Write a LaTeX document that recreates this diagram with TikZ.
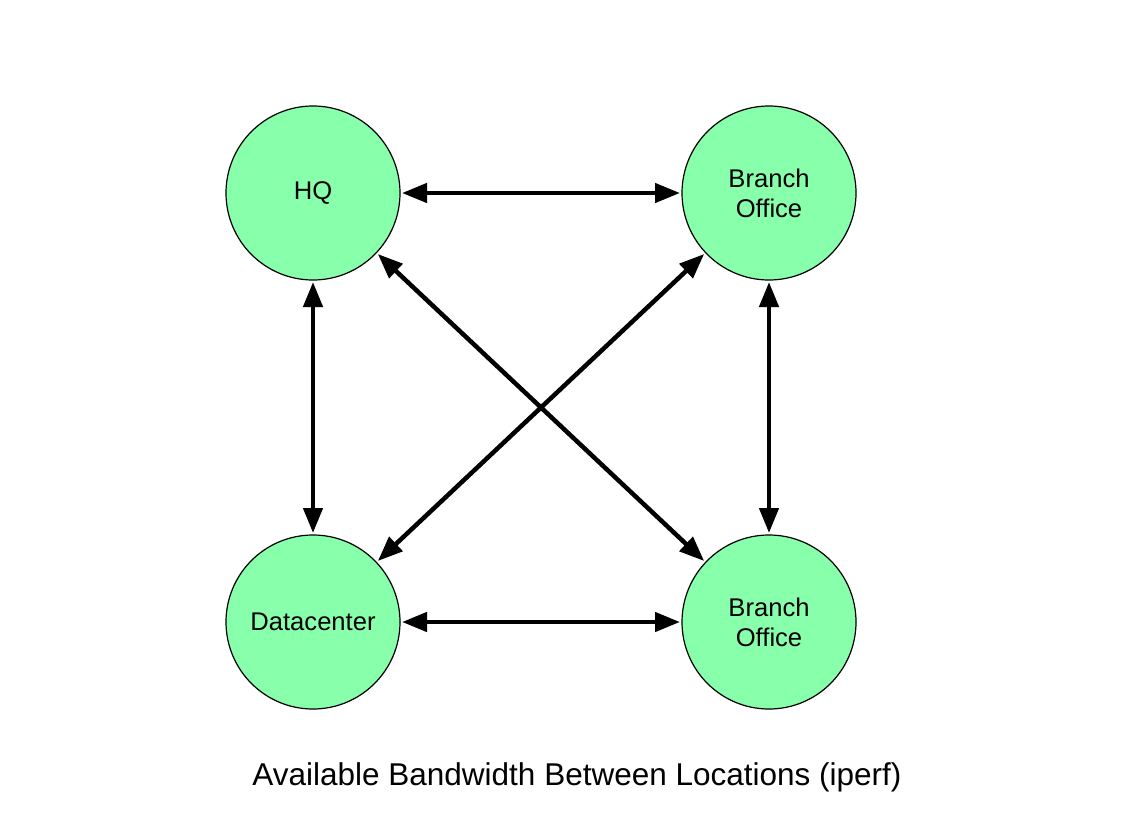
\documentclass[tikz,border=0pt]{standalone}
\usepackage{fontspec}
\setmainfont{Liberation Sans}
\usepackage{tikz}
\usetikzlibrary{arrows.meta}
\definecolor{site area}{RGB}{136,255,170}
\colorlet{site edge}{black}
\tikzset{site/.style={circle, fill=site area, draw=site edge, line width=1.2pt,
        minimum size=174pt, inner sep=0pt, outer sep=2pt, align=center,
        font=\fontsize{25.6}{30}\selectfont},
    link/.style={{Triangle[length=25pt,width=19pt]}-{Triangle[length=25pt,width=19pt]},
        line width=4.5pt}}

\begin{document}
\begin{tikzpicture}[x=1pt,y=-1pt]
    \useasboundingbox (0,0) rectangle (1123,822);
    % locations
    \node[site] (hq)      at (313,193) {HQ};
    \node[site] (branchA) at (769,193) {Branch\\Office};
    \node[site] (dc)      at (313,622) {Datacenter};
    \node[site] (branchB) at (769,622) {Branch\\Office};
    % links
    \draw[link] (hq) -- (branchA);
    \draw[link] (dc) -- (branchB);
    \draw[link] (hq) -- (dc);
    \draw[link] (branchA) -- (branchB);
    \draw[link] (hq) -- (branchB);
    \draw[link] (branchA) -- (dc);
    \node[font=\fontsize{31.5}{36}\selectfont] (caption) at (577,777)
        {Available Bandwidth Between Locations (iperf)};
\end{tikzpicture}
\end{document}
